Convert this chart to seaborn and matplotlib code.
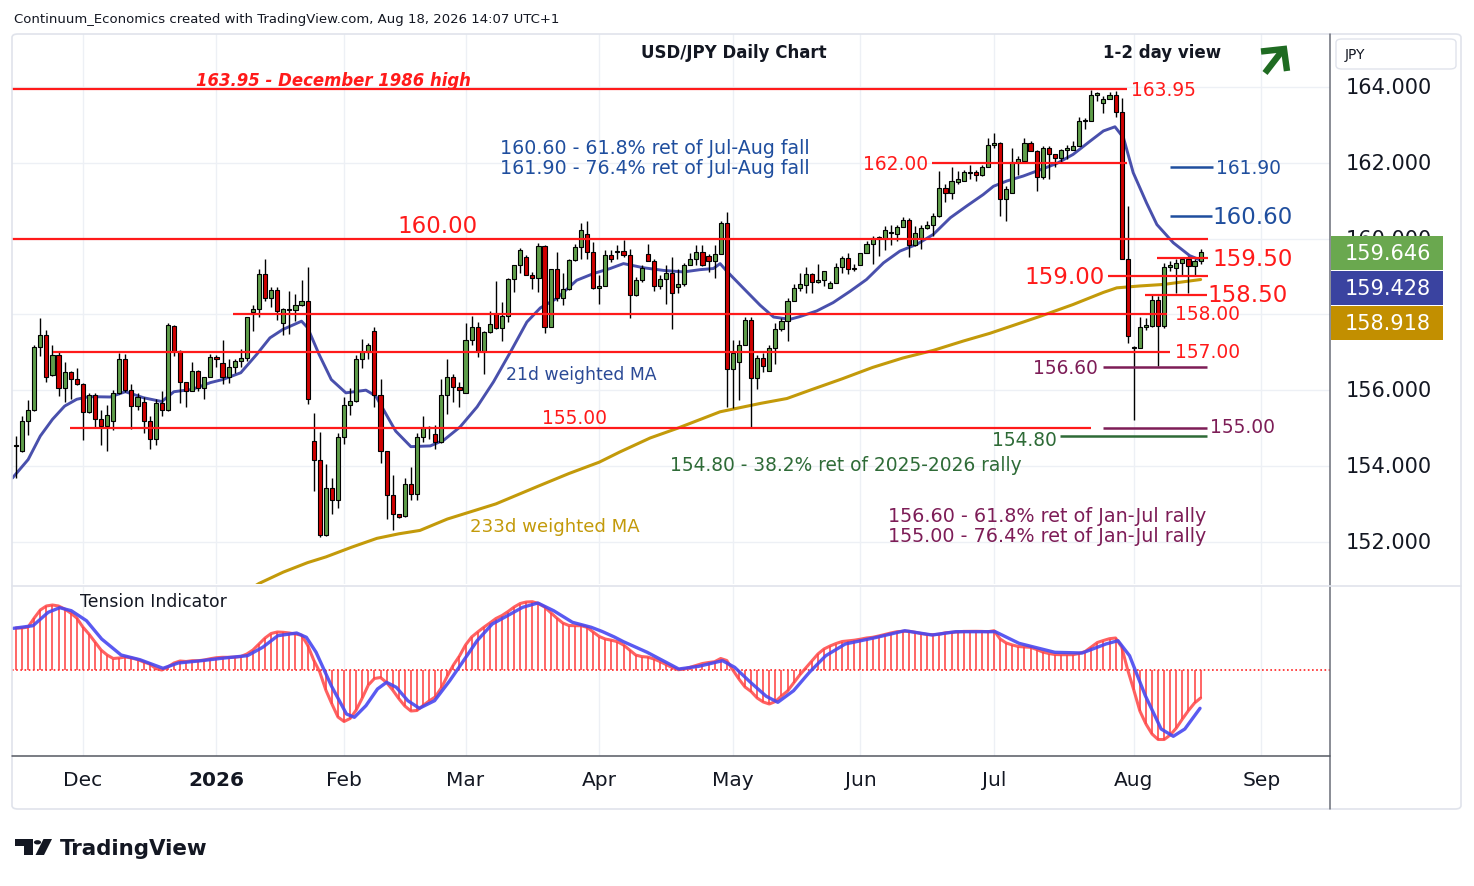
import numpy as np
import pandas as pd
import matplotlib
matplotlib.use("Agg")
import matplotlib.pyplot as plt
import seaborn as sns
from matplotlib.patches import Rectangle, FancyBboxPatch, Circle, Polygon
from matplotlib.lines import Line2D
from matplotlib.transforms import Bbox, TransformedBbox

W, H = 1474, 887

# ---- daily candles, 14 Nov 2025 .. 18 Aug 2026 (bar 1 .. 196) ----
opens = [154.52, 154.39, 155.19, 155.48, 157.15, 157.45, 156.40, 156.93, 156.07, 156.48,
         156.30, 156.15, 155.42, 155.87, 155.25, 155.05, 155.19, 155.92, 156.81, 156.00,
         155.58, 155.69, 155.20, 154.70, 155.67, 155.48, 157.69, 157.03, 156.21, 155.98,
         156.50, 156.07, 156.35, 156.87, 156.72, 156.35, 156.61, 156.77, 156.86, 158.05,
         158.15, 159.07, 158.44, 158.64, 157.78, 158.12, 158.12, 158.25, 158.36, 154.66,
         154.16, 152.18, 153.43, 153.09, 154.77, 155.61, 155.71, 156.83, 157.01, 157.56,
         155.87, 154.39, 153.23, 152.72, 152.69, 153.53, 153.25, 154.77, 154.99, 154.84,
         154.64, 155.87, 156.35, 156.09, 155.93, 157.32, 157.67, 157.03, 157.54, 158.02,
         157.64, 157.96, 158.94, 159.30, 159.52, 159.05, 158.96, 159.81, 157.67, 159.19,
         158.42, 158.66, 159.43, 159.78, 160.13, 159.65, 158.70, 158.75, 159.56, 159.64,
         159.67, 159.56, 158.50, 158.92, 159.60, 159.41, 158.75, 158.94, 159.10, 158.72,
         158.81, 159.31, 159.45, 159.65, 159.54, 159.41, 159.60, 160.42, 156.57, 156.75,
         157.20, 157.86, 156.32, 156.85, 156.51, 157.12, 157.61, 157.83, 158.36, 158.70,
         158.77, 159.06, 158.86, 158.90, 158.70, 158.83, 159.26, 159.48, 159.20, 159.30,
         159.63, 159.86, 160.00, 160.00, 160.15, 160.11, 160.31, 160.50, 159.82, 160.02,
         160.28, 160.35, 160.59, 161.34, 161.19, 161.50, 161.53, 161.73, 161.75, 161.69,
         161.89, 162.48, 162.53, 161.05, 161.21, 162.02, 162.04, 162.53, 162.31, 161.63,
         162.40, 162.22, 162.12, 162.35, 162.35, 162.44, 163.10, 163.10, 163.80, 163.57,
         163.69, 163.80, 163.35, 159.47, 157.10, 157.12, 157.67, 157.69, 158.39, 157.69,
         159.26, 159.23, 159.36, 159.45, 159.27, 159.41]
highs = [154.79, 155.32, 155.74, 157.18, 157.91, 157.58, 157.19, 157.00, 156.74, 156.50,
         156.58, 156.20, 155.93, 155.93, 155.49, 155.62, 156.00, 156.97, 156.96, 156.15,
         155.93, 155.82, 155.32, 155.76, 155.98, 157.78, 157.72, 157.05, 156.21, 156.74,
         156.52, 156.36, 156.96, 156.92, 157.32, 156.81, 156.81, 157.08, 157.93, 158.26,
         159.19, 159.47, 158.72, 158.72, 158.18, 158.63, 158.55, 158.90, 159.26, 155.40,
         154.90, 154.06, 153.69, 154.88, 155.81, 156.07, 156.94, 157.36, 157.25, 157.67,
         156.30, 154.40, 153.75, 152.73, 153.69, 153.96, 154.88, 155.32, 155.05, 155.07,
         156.29, 156.83, 156.44, 156.22, 157.76, 157.96, 157.80, 157.56, 158.08, 158.87,
         158.33, 158.96, 159.31, 159.74, 159.56, 159.12, 159.89, 159.84, 159.21, 159.65,
         159.08, 159.47, 159.87, 160.42, 160.46, 159.91, 159.03, 159.69, 159.69, 159.82,
         159.96, 159.72, 158.99, 159.30, 159.87, 159.45, 159.05, 159.31, 159.52, 159.21,
         159.36, 159.63, 159.82, 159.82, 159.60, 159.82, 160.46, 160.70, 157.32, 157.32,
         157.92, 157.93, 156.92, 156.97, 157.19, 157.78, 157.91, 158.42, 158.81, 159.08,
         159.25, 159.10, 159.32, 159.14, 158.87, 159.35, 159.55, 159.63, 159.32, 159.63,
         159.93, 160.07, 160.07, 160.33, 160.37, 160.37, 160.57, 160.55, 160.33, 160.36,
         160.46, 160.68, 161.78, 161.43, 161.89, 161.78, 161.81, 161.93, 161.81, 161.93,
         162.66, 162.79, 162.55, 161.38, 162.40, 162.18, 162.66, 162.57, 162.35, 162.44,
         162.44, 162.23, 162.36, 162.48, 162.57, 163.21, 163.19, 163.93, 163.86, 163.76,
         163.86, 163.89, 163.71, 160.86, 157.16, 157.94, 157.91, 158.50, 158.48, 159.36,
         159.41, 159.45, 159.49, 159.54, 159.45, 159.73]
lows = [153.69, 154.38, 154.83, 155.45, 156.90, 156.22, 156.38, 155.85, 155.69, 155.76,
        156.13, 154.68, 155.40, 155.04, 154.55, 154.39, 154.94, 155.90, 155.96, 154.97,
        155.47, 154.88, 154.44, 154.55, 155.32, 155.46, 156.90, 155.67, 155.56, 155.98,
        155.98, 155.78, 156.35, 156.60, 156.15, 156.20, 156.46, 156.61, 156.77, 157.56,
        157.93, 158.35, 158.19, 157.84, 157.45, 157.49, 157.82, 158.22, 155.63, 153.34,
        152.12, 152.15, 152.72, 152.90, 154.57, 155.34, 155.70, 156.59, 156.81, 155.55,
        154.09, 152.59, 152.30, 152.62, 152.65, 153.09, 153.09, 154.64, 154.70, 154.46,
        154.60, 155.38, 155.69, 155.56, 155.93, 157.19, 156.88, 156.44, 157.52, 157.62,
        157.29, 157.80, 158.59, 159.10, 159.03, 158.68, 158.59, 157.52, 157.66, 158.36,
        158.24, 158.65, 159.42, 159.47, 159.47, 158.68, 158.28, 158.74, 159.38, 159.45,
        159.52, 157.91, 158.49, 158.86, 159.40, 158.61, 158.66, 158.28, 157.61, 158.57,
        158.75, 159.30, 159.30, 159.28, 159.12, 158.96, 159.59, 155.56, 155.53, 155.73,
        157.19, 155.00, 156.04, 156.48, 156.50, 156.70, 157.55, 157.29, 158.35, 158.61,
        158.57, 158.57, 158.83, 158.75, 158.70, 158.82, 159.10, 159.07, 159.14, 159.29,
        159.61, 159.34, 159.55, 159.71, 159.82, 159.94, 160.30, 159.51, 159.81, 159.73,
        160.24, 160.07, 160.58, 160.96, 161.05, 161.45, 161.52, 161.56, 161.52, 161.65,
        161.88, 162.40, 160.59, 160.46, 161.20, 161.69, 162.02, 162.30, 161.25, 161.56,
        161.56, 161.89, 162.02, 162.09, 162.34, 162.43, 162.88, 163.09, 163.63, 163.32,
        163.67, 163.21, 159.45, 157.25, 155.21, 157.11, 157.60, 157.68, 156.64, 157.65,
        159.15, 158.57, 159.05, 158.57, 159.01, 159.32]
closes = [154.56, 155.19, 155.48, 157.15, 157.45, 156.35, 156.93, 156.07, 156.48, 156.30,
          156.15, 155.42, 155.87, 155.25, 155.05, 155.34, 155.92, 156.81, 156.00, 155.58,
          155.82, 155.20, 154.70, 155.67, 155.48, 157.72, 157.03, 156.21, 155.98, 156.50,
          156.07, 156.35, 156.87, 156.82, 156.35, 156.61, 156.77, 156.86, 157.93, 158.15,
          159.07, 158.44, 158.64, 158.09, 158.13, 158.14, 158.25, 158.36, 155.76, 154.16,
          152.18, 153.43, 153.09, 154.77, 155.61, 155.71, 156.83, 157.01, 157.19, 155.87,
          154.39, 153.23, 152.72, 152.65, 153.53, 153.25, 154.77, 154.99, 155.03, 154.64,
          155.87, 156.35, 156.09, 156.00, 157.32, 157.67, 157.03, 157.54, 157.75, 157.64,
          157.96, 158.94, 159.30, 159.69, 159.05, 158.96, 159.81, 157.67, 159.19, 158.42,
          158.66, 159.43, 159.78, 160.22, 159.65, 158.70, 158.75, 159.56, 159.47, 159.67,
          159.58, 158.50, 158.92, 159.23, 159.41, 158.75, 158.94, 159.10, 158.57, 158.81,
          159.31, 159.45, 159.65, 159.30, 159.41, 159.60, 160.42, 156.57, 156.99, 157.20,
          157.86, 156.32, 156.85, 156.64, 157.12, 157.61, 157.83, 158.36, 158.70, 158.79,
          159.06, 158.86, 158.90, 159.14, 158.83, 159.26, 159.48, 159.20, 159.22, 159.63,
          159.86, 160.02, 160.04, 160.22, 160.16, 160.31, 160.50, 159.82, 160.15, 160.28,
          160.35, 160.59, 161.34, 161.21, 161.53, 161.56, 161.75, 161.74, 161.67, 161.89,
          162.48, 162.53, 161.05, 161.30, 162.02, 162.09, 162.53, 162.31, 161.63, 162.40,
          162.22, 162.12, 162.35, 162.36, 162.44, 163.10, 163.11, 163.80, 163.81, 163.69,
          163.80, 163.35, 159.47, 157.44, 157.14, 157.67, 157.71, 158.39, 157.69, 159.26,
          159.29, 159.36, 159.45, 159.27, 159.41, 159.65]

# ---- moving averages (bar, value) ----
ma21_bar = [0.4, 3, 5, 7, 9, 11, 13, 16.5, 19, 22, 25, 27, 30, 33, 35, 38, 40.6, 42.8, 44.9, 48,
            49, 50.9, 52.9, 55.3, 58.6, 60.2, 63.5, 66, 69.2, 71.4, 74.1, 76.9, 79.6, 82.4, 85.1,
            87.3, 90, 93.3, 96.1, 98.8, 101, 104.3, 107.6, 110.9, 113.6, 115.8, 116.9, 118, 120.8,
            123.5, 125.7, 128.4, 130, 132.8, 135.5, 138.3, 141, 143.8, 146.5, 149.3, 152, 154.8,
            157.5, 160.2, 161.9, 164.1, 166.8, 169.5, 172.3, 175, 177.8, 180, 181.9, 183.3, 184.9,
            187.1, 188.8, 191.5, 194.2, 196]
ma21_val = [153.68, 154.17, 154.79, 155.23, 155.58, 155.76, 155.83, 155.82, 155.96, 155.80,
            155.70, 155.96, 156.02, 156.20, 156.28, 156.46, 156.94, 157.38, 157.60, 157.82,
            157.65, 156.94, 156.28, 155.93, 156.00, 155.85, 154.92, 154.51, 154.53, 154.68,
            155.03, 155.56, 156.22, 157.01, 157.80, 158.17, 158.42, 158.90, 159.08, 159.21,
            159.34, 159.23, 159.16, 159.12, 159.18, 159.21, 159.34, 159.14, 158.68, 158.24,
            157.93, 157.87, 157.94, 158.09, 158.31, 158.61, 158.92, 159.36, 159.67, 159.85,
            160.11, 160.55, 160.86, 161.16, 161.38, 161.52, 161.65, 161.81, 161.98, 162.22,
            162.57, 162.84, 162.95, 162.66, 161.74, 160.94, 160.37, 159.89, 159.55, 159.43]
ma233_bar = [38, 41, 45, 49, 52, 56.3, 60.4, 64, 67.5, 72, 80, 87, 92, 97, 100.4, 105.4, 109.8,
             116.9, 123.5, 127.9, 131.7, 137, 142, 147, 152, 157, 161.3, 165, 169.6, 175, 180,
             182.2, 186, 189.9, 196]
ma233_val = [150.60, 150.90, 151.20, 151.45, 151.60, 151.86, 152.09, 152.21, 152.30, 152.60,
             153.00, 153.47, 153.80, 154.10, 154.37, 154.74, 154.99, 155.43, 155.65, 155.78,
             156.00, 156.30, 156.60, 156.85, 157.05, 157.30, 157.50, 157.70, 157.95, 158.26,
             158.58, 158.70, 158.75, 158.79, 158.92]

# ---- Tension Indicator (histogram per bar) and its signal line ----
tension = [42, 42, 43, 52, 60, 64, 65, 64, 61, 57,
           52, 43, 36, 28, 20, 15, 11.5, 12, 13, 12,
           10.5, 8, 6, 1.5, 0, 3, 7, 9, 8.5, 9.3,
           9.3, 10, 11.3, 12.3, 12.7, 12.7, 12.9, 13.5, 16, 20,
           26, 32, 36.5, 38, 37.7, 37, 36, 34.8, 25, 10,
           -2, -20, -34, -47, -51.5, -48.5, -40, -28, -15, -8.5,
           -7.5, -12.5, -20, -28.5, -36, -41, -40.5, -35.5, -31, -27,
           -18, -6, 5, 14, 25, 33, 38, 42.7, 47, 51.5,
           54.5, 58.5, 63, 66.5, 68, 68.3, 66.5, 63, 57.5, 52,
           47, 44.5, 44.3, 44.3, 42.7, 38, 33.5, 31, 29.8, 28.3,
           25, 20, 15, 13.4, 12.9, 11, 8.5, 5.5, 2.5, 0.3,
           0.9, 2.8, 4.8, 6.5, 7.5, 8.3, 11.5, 9.5, 0, -9,
           -17, -21.5, -28, -32, -34, -31.5, -26, -21, -13, -5,
           2, 9, 16, 21, 24, 26.5, 28.5, 29.1, 29.8, 30.8,
           32, 32.7, 34, 35.5, 37, 38.3, 38.7, 38.7, 37.7, 36.5,
           35.5, 35.3, 35.8, 37.2, 37.7, 38.3, 38.6, 38.7, 38.7, 38.6,
           38.3, 39.3, 31, 27, 25, 23.5, 23, 22.7, 20.5, 18,
           16.5, 15.5, 15.3, 15.3, 15.3, 16.5, 18.5, 23, 27.5, 29.5,
           31.3, 32, 23, 0, -20, -41, -54, -64, -69.5, -69.5,
           -65, -58, -49, -40.5, -33, -28]
signal_bar = [0.6, 3.8, 6.3, 8.2, 10.1, 12.6, 15.1, 18.3, 21.4, 25.2, 27.7, 31.5, 35.3, 39.1,
              41.6, 44.1, 47.2, 48.8, 50.4, 52.9, 55.4, 56.7, 58.6, 60.5, 62, 63.6, 65.5, 67.4,
              69.9, 72.4, 74.3, 76.9, 79.4, 81.9, 84.4, 86.9, 89.5, 92.6, 95.7, 97.5, 99.5,
              101, 104.9, 110.1, 113.4, 117.3, 119.3, 121.9, 124.5, 126.4, 129, 131.6, 134.3,
              137.5, 142.7, 147.3, 151.8, 155.7, 162.2, 166.1, 172, 176.5, 180.4, 182.4, 184.3,
              186.9, 189.5, 191.5, 193.4, 195.9]
signal_val = [41.7, 44.3, 57.7, 62.3, 59.3, 49.3, 31, 15, 10.3, 1.7, 7, 9.3, 12, 14.3,
              22.7, 34.3, 37, 32.7, 17.7, -15.7, -44, -47.3, -35.7, -19, -12.3, -17.3, -30.7,
              -38.3, -30.7, -10.7, 6, 29.3, 46, 54.3, 62.7, 67, 59.3, 47.7, 42.7, 38.5, 33,
              28.3, 17.7, 1, 3.7, 9.3, 2.7, -12.3, -26.3, -32.3, -20.7, -2.3, 14.3,
              26, 32.7, 39.3, 35, 38.3, 38.3, 26.7, 17.7, 17, 26, 29.3, 14.3,
              -25.7, -59, -66.3, -59, -38.3]

# ---- levels, axis labels ----
red_levels = [163.95, 162.00, 160.00, 159.50, 159.00, 158.50, 158.00, 157.00, 155.00]
blue_levels = [161.90, 160.60]
purple_levels = [156.60, 155.00]
green_levels = [154.80]
month_bar = [12, 34, 55, 75, 97, 119, 140, 162, 185, 206]
month_lbl = ["Dec", "2026", "Feb", "Mar", "Apr", "May", "Jun", "Jul", "Aug", "Sep"]
price_ticks = [152, 154, 156, 158, 160, 162, 164]
last_values = ["159.646", "159.428", "158.918"]

# layout (pixel x ranges of the level lines)
red_span = [(12, 1127), (932, 1127), (12, 1208), (1157, 1208), (1108, 1208),
            (1145, 1207), (233, 1167), (53, 1170), (70, 1091)]
blue_span = [(1170, 1213), (1170, 1212)]
purple_span = [(1103, 1207), (1103, 1207)]
green_span = [(1060, 1207)]

RED = "#ff1a1a"
BLUE = "#1f4e9e"
PURPLE = "#7d1d57"
DKGREEN = "#2e6b37"
TXT = "#131722"

sns.set_theme(style="white")
plt.rcParams["font.family"] = ["DejaVu Sans"]

fig = plt.figure(figsize=(W / 100, H / 100), dpi=100)
fig.patch.set_facecolor("white")


def fx(x):
    return x / W


def fy(y):
    return 1 - y / H


def bx(x):
    return 1 + (x - 16) / 6.075


ax = fig.add_axes([fx(12), fy(585), fx(1330) - fx(12), fy(35) - fy(585)])
ax2 = fig.add_axes([fx(12), fy(757), fx(1330) - fx(12), fy(588) - fy(757)])

for a in (ax, ax2):
    a.set_facecolor("white")
    for s in a.spines.values():
        s.set_visible(False)
    a.set_xlim(bx(12), bx(1330))
    for b in month_bar:
        a.axvline(b, color="#edf0f5", lw=1, zorder=0)

YMIN, YMAX = 150.886, 165.398
ax.set_ylim(YMIN, YMAX)
for p in price_ticks:
    ax.axhline(p, color="#edf0f5", lw=1, zorder=0)

df = pd.DataFrame({"bar": np.arange(1, len(closes) + 1), "open": opens, "high": highs,
                   "low": lows, "close": closes})
df["up"] = df["close"] >= df["open"]
body_lo = np.minimum(df["open"], df["close"])
body_hi = np.maximum(df["open"], df["close"])
body_h = np.maximum(body_hi - body_lo, 0.03)

# moving averages
sns.lineplot(x=ma21_bar, y=ma21_val, ax=ax, color="#3f46a8", lw=2.1, alpha=0.95,
             sort=False, estimator=None, zorder=2)
sns.lineplot(x=ma233_bar, y=ma233_val, ax=ax, color="#c39a0a", lw=2.2,
             sort=False, estimator=None, zorder=2)

# candles
ax.vlines(df["bar"], np.minimum(df["low"], body_lo), np.maximum(df["high"], body_hi),
          color="black", lw=1.0, zorder=3)
ax.bar(df["bar"], body_h, bottom=body_lo, width=0.68,
       color=np.where(df["up"], "#5f9e4a", "#d00000"), edgecolor="black", linewidth=0.8, zorder=4)

# level lines
for lv, (x0, x1) in zip(red_levels, red_span):
    ax.hlines(lv, bx(x0), bx(x1), color=RED, lw=1.6, zorder=5)
for lv, (x0, x1) in zip(blue_levels, blue_span):
    ax.hlines(lv, bx(x0), bx(x1), color=BLUE, lw=1.8, zorder=5)
for lv, (x0, x1) in zip(purple_levels, purple_span):
    ax.hlines(lv, bx(x0), bx(x1), color=PURPLE, lw=1.8, zorder=5)
for lv, (x0, x1) in zip(green_levels, green_span):
    ax.hlines(lv, bx(x0), bx(x1), color=DKGREEN, lw=1.8, zorder=5)

ax.set_xticks([])
ax.set_yticks([])
ax.set_xlabel("")
ax.set_ylabel("")


def t(x, y, s, size, color, ha="left", weight="normal", style="normal"):
    return fig.text(fx(x), fy(y), s, fontsize=size, color=color, ha=ha, va="center",
                    fontweight=weight, fontstyle=style)


# price scale labels (the ones under the last-value boxes are hidden as in the reference)
box_top, box_bottom = 237, 341
for p in price_ticks:
    ypx = 35 + (YMAX - p) / (YMAX - YMIN) * 550
    if box_top + 8 < ypx < box_bottom + 8:
        continue
    lab = t(1346, ypx, f"{p:.3f}", 15, TXT)
    if box_top - 12 < ypx <= box_top + 8:
        lab.set_clip_box(TransformedBbox(Bbox([[fx(1331), fy(box_top)], [fx(1460), fy(30)]]),
                                         fig.transFigure))
        lab.set_clip_on(True)

# annotations
t(14, 19, "Continuum_Economics created with TradingView.com, Aug 18, 2026 14:07 UTC+1", 9.5, TXT)
t(734, 53, "USD/JPY Daily Chart", 12, TXT, ha="center", weight="bold")
t(1162, 53, "1-2 day view", 12, TXT, ha="center", weight="bold")
t(196, 81, "163.95 - December 1986 high", 11.9, RED, weight="bold", style="italic")
t(1131, 90, "163.95", 13.4, RED)
t(928, 164, "162.00", 13.4, RED, ha="right")
t(500, 148, "160.60 - 61.8% ret of Jul-Aug fall", 13.7, BLUE)
t(500, 168, "161.90 - 76.4% ret of Jul-Aug fall", 13.7, BLUE)
t(1216, 168, "161.90", 13.4, BLUE)
t(1212, 217, "160.60", 16.5, BLUE)
t(438, 227, "160.00", 16.5, RED, ha="center")
t(1212, 259, "159.50", 16.5, RED)
t(1105, 278, "159.00", 16.5, RED, ha="right")
t(1207, 296, "158.50", 16.5, RED)
t(1175, 315, "158.00", 13.4, RED)
t(1175, 353, "157.00", 13.4, RED)
t(1098, 369, "156.60", 13.4, PURPLE, ha="right")
t(506, 375, "21d weighted MA", 12.4, "#2b4a96")
t(574, 419, "155.00", 13.4, RED, ha="center")
t(1210, 428, "155.00", 13.4, PURPLE)
t(1057, 441, "154.80", 13.4, DKGREEN, ha="right")
t(670, 466, "154.80 - 38.2% ret of 2025-2026 rally", 13.4, DKGREEN)
t(888, 517, "156.60 - 61.8% ret of Jan-Jul rally", 13.8, PURPLE)
t(888, 537, "155.00 - 76.4% ret of Jan-Jul rally", 13.8, PURPLE)
t(470, 527, "233d weighted MA", 13.1, "#c39a0a")
t(80, 602, "Tension Indicator", 12.4, TXT)

# green "up" arrow: shaft plus a mitred chevron head
ARROW = "#1f6b22"
fig.add_artist(Line2D([fx(1265), fx(1282)], [fy(74), fy(52)], color=ARROW, lw=4.6,
                      solid_capstyle="butt"))
fig.add_artist(Line2D([fx(1261), fx(1284), fx(1287)], [fy(52.5), fy(50), fy(72)], color=ARROW,
                      lw=4.6, solid_capstyle="butt", solid_joinstyle="miter"))

# tension panel
ax2.set_ylim(-86, 83)
ax2.axhline(0, color="#ff2020", lw=1.2, ls=(0, (1, 1.5)), zorder=1)
ax2.vlines(df["bar"], 0, tension, color="#ff3535", lw=1.25, alpha=0.85, zorder=2)
sns.lineplot(x=df["bar"], y=tension, ax=ax2, color="#ff4545", lw=2.2, alpha=0.85,
             sort=False, estimator=None, zorder=3)
sns.lineplot(x=signal_bar, y=signal_val, ax=ax2, color="#4848f0", lw=2.4, alpha=0.9,
             sort=False, estimator=None, zorder=4)
ax2.set_yticks([])
ax2.set_xticks(month_bar)
ax2.set_xticklabels(month_lbl)
ax2.tick_params(axis="x", length=0, pad=10, labelsize=14.5, labelcolor=TXT)
ax2.get_xticklabels()[1].set_fontweight("bold")
ax2.set_xlabel("")
ax2.set_ylabel("")

# frame and separators
fig.add_artist(FancyBboxPatch((fx(12), fy(810)), fx(1461) - fx(12), fy(35) - fy(810),
                              boxstyle="round,pad=0,rounding_size=0.004", transform=fig.transFigure,
                              fill=False, ec="#e0e3eb", lw=1.2))
fig.add_artist(Line2D([fx(1330), fx(1330)], [fy(35), fy(810)], color="#6a6d78", lw=1.1))
fig.add_artist(Line2D([fx(12), fx(1461)], [fy(586.5), fy(586.5)], color="#e0e3eb", lw=1.2))
fig.add_artist(Line2D([fx(12), fx(1330)], [fy(757), fy(757)], color="#555862", lw=1.1))

# JPY box
fig.add_artist(FancyBboxPatch((fx(1336), fy(70)), fx(1456) - fx(1336), fy(40) - fy(70),
                              boxstyle="round,pad=0,rounding_size=0.004", transform=fig.transFigure,
                              fc="white", ec="#e0e3eb", lw=1))
t(1345, 55, "JPY", 10, TXT)

# last value boxes
for (yc, col), val in zip([(254, "#6aa84f"), (289, "#3a43a0"), (324, "#c28f00")], last_values):
    fig.add_artist(Rectangle((fx(1331), fy(yc + 17)), fx(1443) - fx(1331), 34 / H,
                             transform=fig.transFigure, fc=col, ec="none", zorder=5))
    fig.text(fx(1388), fy(yc), val, fontsize=15, color="white", ha="center", va="center", zorder=6)

# TradingView logo
fig.add_artist(Polygon([(fx(15), fy(840)), (fx(33), fy(840)), (fx(33), fy(856)), (fx(23.5), fy(856)),
                        (fx(23.5), fy(846.5)), (fx(15), fy(846.5))], closed=True,
                       transform=fig.transFigure, fc="#131722", ec="none"))
fig.add_artist(Circle((fx(37.5), fy(843.3)), 3.6 / W, transform=fig.transFigure, fc="#131722", ec="none"))
fig.add_artist(Polygon([(fx(35.5), fy(856)), (fx(43.5), fy(840)), (fx(52), fy(840)), (fx(44), fy(856))],
                       closed=True, transform=fig.transFigure, fc="#131722", ec="none"))
t(60, 849, "TradingView", 15.4, TXT, weight="bold")

fig.savefig("out.png", dpi=100, facecolor="white")
